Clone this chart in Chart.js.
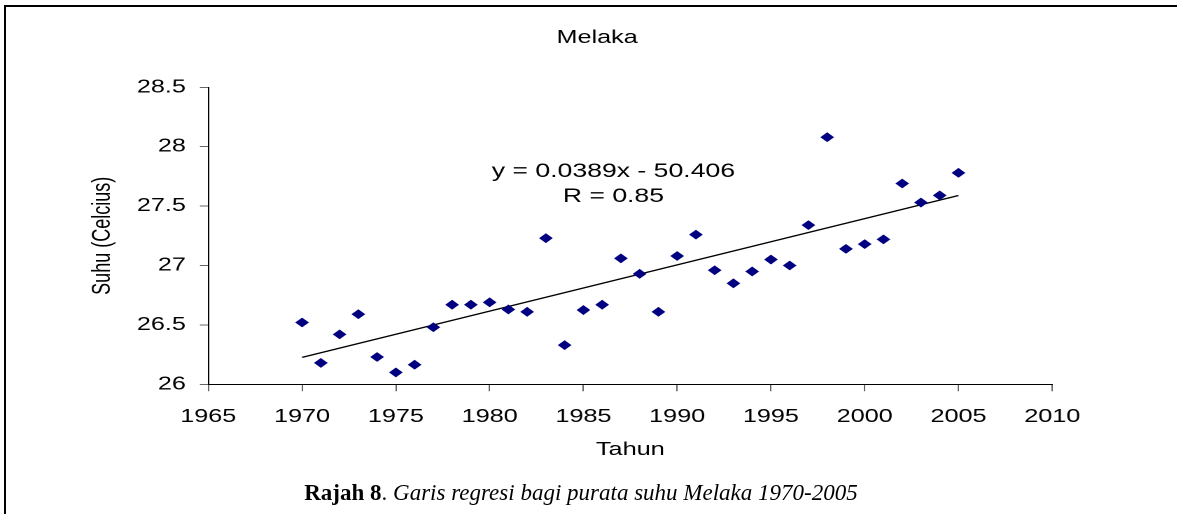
<!DOCTYPE html>
<html><head><meta charset="utf-8">
<script src="https://cdn.jsdelivr.net/npm/chart.js@4/dist/chart.umd.min.js"></script>
<style>
html,body{margin:0;padding:0;background:#fff;}
body{width:1177px;height:514px;overflow:hidden;position:relative;}
#frame{position:absolute;left:4px;top:5px;width:1300px;height:600px;border-left:2px solid #000;border-top:2px solid #000;}
#wrap{position:absolute;left:0;top:0;width:853px;height:514px;transform:scaleX(1.4);transform-origin:0 0;}
#cap{position:absolute;left:0;width:1162px;top:480px;line-height:26px;text-align:center;font-family:"Liberation Serif","Times New Roman",serif;font-size:23px;color:#000;white-space:nowrap;}
</style></head><body>
<div id="frame"></div>
<div id="wrap"><canvas id="c" width="853" height="514"></canvas></div>
<div id="cap"><b>Rajah 8</b>. <i>Garis regresi bagi purata suhu Melaka 1970-2005</i></div>
<script>
const chartTitle = 'Melaka';
const xAxisTitle = 'Tahun';
const yAxisTitle = 'Suhu (Celcius)';
const years = [1970,1971,1972,1973,1974,1975,1976,1977,1978,1979,1980,1981,1982,1983,1984,1985,1986,1987,1988,1989,1990,1991,1992,1993,1994,1995,1996,1997,1998,1999,2000,2001,2002,2003,2004,2005];
const temps = [26.52,26.18,26.42,26.59,26.23,26.10,26.165,26.48,26.67,26.67,26.69,26.63,26.61,27.23,26.33,26.625,26.67,27.06,26.93,26.61,27.08,27.26,26.96,26.85,26.95,27.05,27.00,27.34,28.08,27.14,27.18,27.22,27.69,27.53,27.59,27.78];
const trendYears = [1970, 2005];
const trendTemps = [26.227, 27.589];
const regressionText = ['y = 0.0389x - 50.406', 'R = 0.85'];
const xTickLabels = ['1965','1970','1975','1980','1985','1990','1995','2000','2005','2010'];
const yTickLabels = ['26','26.5','27','27.5','28','28.5'];

const FONT = '"Liberation Sans", Arial, sans-serif';
Chart.defaults.font.family = FONT;
Chart.defaults.font.size = 18;
Chart.defaults.color = '#000';

const regressionLabel = {
  id: 'regressionLabel',
  afterDatasetsDraw(chart, args, opts) {
    const {ctx} = chart;
    const px = chart.scales.x.getPixelForValue(opts.atX);
    const py = chart.scales.y.getPixelForValue(opts.atY);
    ctx.save();
    ctx.font = '19px ' + FONT;
    ctx.fillStyle = '#000';
    ctx.textAlign = 'center';
    ctx.textBaseline = 'middle';
    opts.lines.forEach((t, i) => ctx.fillText(t, px, py + i * opts.gap));
    ctx.restore();
  }
};

new Chart(document.getElementById('c'), {
  type: 'scatter',
  data: {
    datasets: [
      {
        label: 'Suhu',
        data: years.map((yr, i) => ({x: yr, y: temps[i]})),
        pointStyle: 'rectRot',
        pointRadius: 4.2,
        pointBorderWidth: 1,
        backgroundColor: '#000080',
        borderColor: '#000080',
        showLine: false
      },
      {
        label: 'Trend',
        data: trendYears.map((yr, i) => ({x: yr, y: trendTemps[i]})),
        showLine: true,
        borderColor: '#000',
        borderWidth: 1.3,
        pointRadius: 0,
        fill: false
      }
    ]
  },
  options: {
    responsive: false,
    devicePixelRatio: 2,
    animation: false,
    layout: {padding: 0},
    plugins: {
      legend: {display: false},
      tooltip: {enabled: false},
      title: {display: true, text: chartTitle, color: '#000', font: {size: 18, weight: 'normal'}, padding: {top: 27, bottom: 38.7}},
      regressionLabel: {lines: regressionText, atX: 1986.6, atY: 27.787, gap: 25}
    },
    scales: {
      x: {
        type: 'linear', min: 1965, max: 2010,
        afterFit: s => { s.height = 129.7; },
        border: {display: true, color: '#000', width: 1},
        grid: {display: true, drawOnChartArea: false, drawTicks: true, tickLength: 7, tickColor: '#666'},
        ticks: {stepSize: 5, autoSkip: false, maxRotation: 0, padding: 15, color: '#000',
                callback: (v, i) => xTickLabels[i]},
        title: {display: true, text: xAxisTitle, color: '#000', font: {size: 18}, padding: {top: 0, bottom: 53.2}}
      },
      y: {
        type: 'linear', min: 26, max: 28.5, position: 'left',
        afterFit: s => { s.width = 148.8; },
        border: {display: true, color: '#000', width: 1},
        grid: {display: true, drawOnChartArea: false, drawTicks: true, tickLength: 6, tickColor: '#666'},
        ticks: {stepSize: 0.5, autoSkip: false, padding: 10, color: '#000',
                callback: (v, i) => yTickLabels[i]},
        title: {display: true, text: yAxisTitle, color: '#000', font: {size: 18}, padding: {top: 62.8, bottom: 0}}
      },
      yRight: {
        type: 'linear', position: 'right', min: 26, max: 28.5,
        afterFit: s => { s.width = 101.4; },
        border: {display: false},
        grid: {display: false},
        ticks: {display: false}
      }
    }
  },
  plugins: [regressionLabel]
});
</script>
</body></html>
